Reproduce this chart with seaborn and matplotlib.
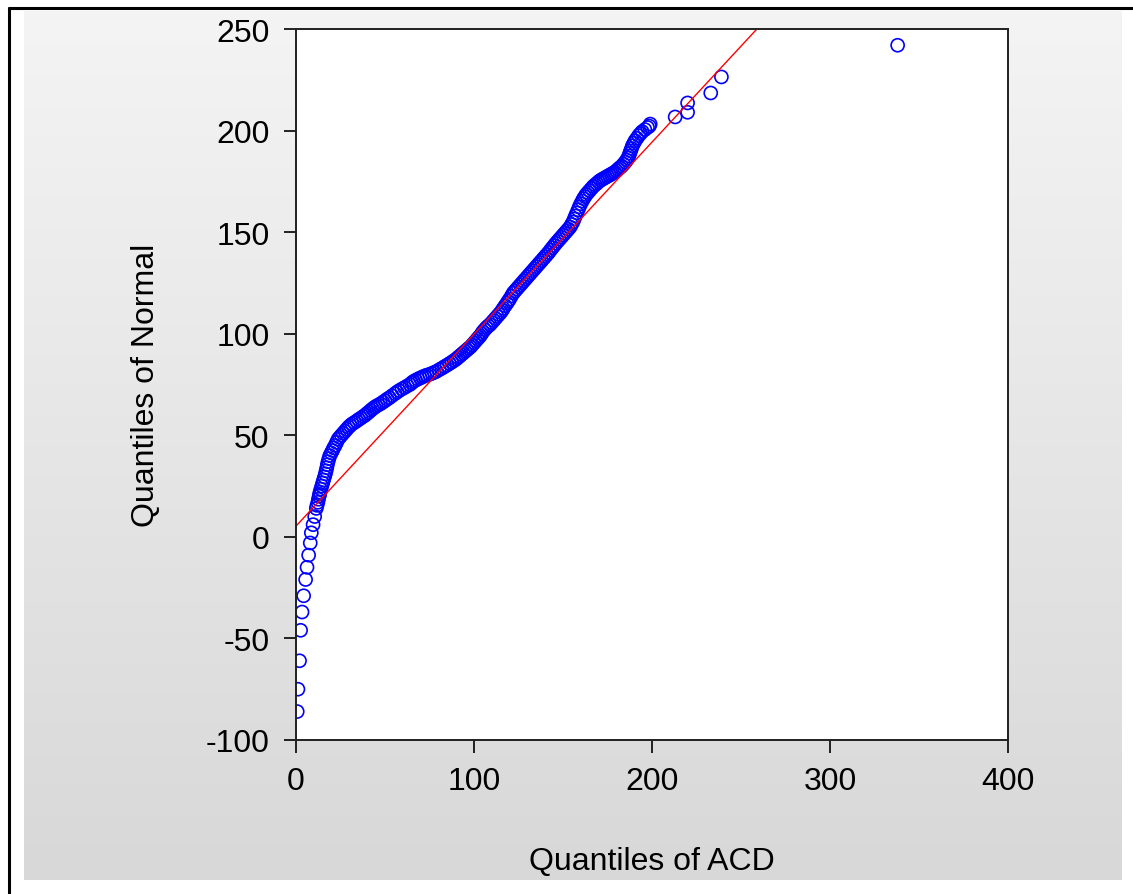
import numpy as np
import pandas as pd
import seaborn as sns
import matplotlib.pyplot as plt
from matplotlib.lines import Line2D

# quantiles (x: ACD, y: normal)
acd_q = [0.7, 1.1, 2.0, 2.6, 3.4, 4.3, 5.4, 6.2, 7.1, 8.0, 8.6, 9.6, 10.5,
         11.4, 11.8, 12.3, 12.6, 13.0, 13.3, 13.5, 14.0, 14.5, 15.0,
         15.5, 16.0, 16.5, 16.9, 17.3, 17.6, 18.0, 18.5, 19.0, 19.8,
         20.5, 21.2, 22.0, 22.8, 23.6, 24.5, 25.5, 26.5, 27.5, 28.5,
         29.5, 30.5, 31.5, 32.8, 34.0, 35.2, 36.5, 37.8, 39.0, 40.0,
         41.0, 42.0, 43.0, 44.0, 45.0, 46.2, 47.5, 48.8, 50.0, 51.2,
         52.5, 54.0, 55.6, 56.8, 58.0, 59.5, 61.0, 62.5, 64.0, 65.0,
         66.0, 67.2, 68.5, 69.8, 71.0, 72.2, 73.5, 75.0, 76.4, 77.7,
         79.0, 80.5, 82.0, 83.4, 84.8, 86.2, 87.5, 88.8, 90.0, 91.0,
         92.0, 93.0, 94.0, 95.0, 96.0, 97.0, 98.0, 99.0, 100.0, 101.0,
         102.0, 102.8, 103.5, 104.3, 105.0, 106.0, 107.0, 108.0, 109.0, 110.0,
         111.0, 112.0, 113.0, 114.0, 115.0, 115.8, 116.5, 117.5, 118.5, 119.2,
         120.0, 121.0, 122.0, 123.0, 124.0, 125.0, 126.0, 127.0, 128.0, 129.0,
         130.0, 131.0, 132.0, 133.0, 134.0, 135.0, 136.0, 137.0, 138.0, 139.0,
         140.0, 141.0, 142.0, 143.0, 144.0, 145.0, 146.0, 147.0, 148.0, 149.0,
         150.0, 151.0, 152.0, 153.0, 154.0, 154.8, 155.6, 156.3, 157.0, 157.8,
         158.5, 159.2, 160.0, 160.8, 161.5, 162.3, 163.0, 164.0, 165.0, 166.0,
         167.0, 168.0, 169.0, 170.0, 171.0, 172.0, 173.0, 174.0, 175.0, 176.0,
         177.0, 178.0, 179.0, 180.0, 181.0, 182.0, 183.0, 184.0, 185.0, 185.8,
         186.5, 187.0, 187.5, 188.0, 188.5, 189.0, 189.8, 190.5, 191.5, 192.5,
         193.5, 194.5, 196.0, 197.5, 198.5, 199.0, 213.0, 220.0, 220.0, 233.0,
         239.0, 338.0]
normal_q = [-86, -75, -61, -46, -37, -29, -21, -15, -9, -3, 2, 6, 10,
            14, 15.5, 17, 18.5, 20, 21, 22, 23.5, 25, 26.5,
            28, 29.5, 31, 32.5, 34, 35.5, 37, 38.5, 40, 41.3,
            42.5, 43.8, 45, 46.5, 48, 49, 50, 51, 52, 53,
            54, 54.8, 55.6, 56.3, 57, 57.8, 58.5, 59.3, 60, 60.8,
            61.5, 62.3, 63, 63.7, 64.3, 64.9, 65.5, 66.3, 67, 67.8,
            68.5, 69.5, 70.5, 71.3, 72, 72.8, 73.5, 74.3, 75, 75.8,
            76.5, 77.1, 77.7, 78.2, 78.7, 79.2, 79.6, 80.0, 80.5, 81.0,
            81.5, 82.3, 83.0, 83.8, 84.5, 85.3, 86.0, 86.8, 87.5, 88.3,
            89.0, 89.8, 90.5, 91.3, 92.0, 92.8, 93.5, 94.5, 95.5, 96.5,
            97.5, 98.3, 99.0, 100.0, 101.0, 102.0, 103.0, 103.8, 104.5, 105.5,
            106.5, 107.5, 108.5, 109.5, 110.5, 111.5, 112.5, 113.8, 115.0, 116.0,
            117.0, 118.5, 120.0, 121.0, 122.0, 123.0, 124.0, 125.0, 126.0, 127.0,
            128.0, 129.0, 130.0, 131.0, 132.0, 133.0, 134.0, 135.0, 136.0, 137.0,
            138.0, 139.0, 140.0, 141.2, 142.3, 143.4, 144.5, 145.5, 146.5, 147.5,
            148.5, 149.5, 150.5, 151.5, 152.5, 153.8, 155.0, 156.5, 158.0, 159.5,
            161.0, 162.5, 164.0, 165.3, 166.5, 167.5, 168.5, 169.5, 170.5, 171.5,
            172.5, 173.3, 174.0, 174.8, 175.5, 176.0, 176.5, 177.0, 177.5, 178.0,
            178.5, 179.0, 179.5, 180.2, 181.0, 181.8, 182.5, 183.5, 184.5, 185.5,
            186.5, 187.5, 188.8, 190.0, 191.2, 192.5, 193.8, 195.0, 196.2, 197.5,
            198.5, 199.5, 200.5, 201.5, 202.2, 203.2, 206.7, 209.0, 213.6, 218.5,
            226.4, 242.0]

# fitted reference line
line_intercept = 5.3
line_slope = 0.945

x_ticks = [0, 100, 200, 300, 400]
y_ticks = [-100, -50, 0, 50, 100, 150, 200, 250]

df = pd.DataFrame({'acd': acd_q, 'normal': normal_q})

sns.set_style('ticks')
plt.rcParams['font.family'] = ['Liberation Sans', 'DejaVu Sans']
plt.rcParams['axes.unicode_minus'] = False
plt.rcParams['text.color'] = 'black'
plt.rcParams['axes.labelcolor'] = 'black'

fig = plt.figure(figsize=(11.33, 8.95), dpi=100)
fig.patch.set_facecolor('white')

# gray gradient panel behind the plot
W, H = 1133, 895
bg = fig.add_axes([24 / W, 1 - 881 / H, (1122 - 24) / W, (881 - 12) / H])
grad = np.linspace(0xf4, 0xd8, 256)[:, None] * np.ones((1, 2)) / 255
bg.imshow(np.dstack([grad, grad, grad]), aspect='auto', extent=[0, 1, 0, 1])
bg.set_axis_off()

# black frame (left and top)
fig.add_artist(Line2D([9 / W, 9 / W], [0, 1 - 9 / H], color='black', lw=2.2))
fig.add_artist(Line2D([9 / W, 1], [1 - 9 / H, 1 - 9 / H], color='black', lw=2.2))

ax = fig.add_axes([296 / W, 1 - 741 / H, (1008 - 296) / W, (741 - 30) / H])
ax.set_facecolor('white')

sns.scatterplot(data=df, x='acd', y='normal', ax=ax, marker='o', s=88,
                facecolor='none', edgecolor='#0000ff', linewidth=1.2)
ax.axline((0, line_intercept), slope=line_slope, color='red', lw=1.0)

ax.set_xlim(0, 400)
ax.set_ylim(-100, 250)
ax.set_xticks(x_ticks)
ax.set_yticks(y_ticks)
ax.tick_params(direction='out', length=9, width=1.2, labelsize=23, pad=10,
               colors='black', top=False, right=False)
for s in ax.spines.values():
    s.set_color('#202020')
    s.set_linewidth(1.4)

ax.set_xlabel('Quantiles of ACD', fontsize=23, labelpad=36)
ax.set_ylabel('Quantiles of Normal', fontsize=23, labelpad=32)

plt.savefig('out.png', dpi=100)
